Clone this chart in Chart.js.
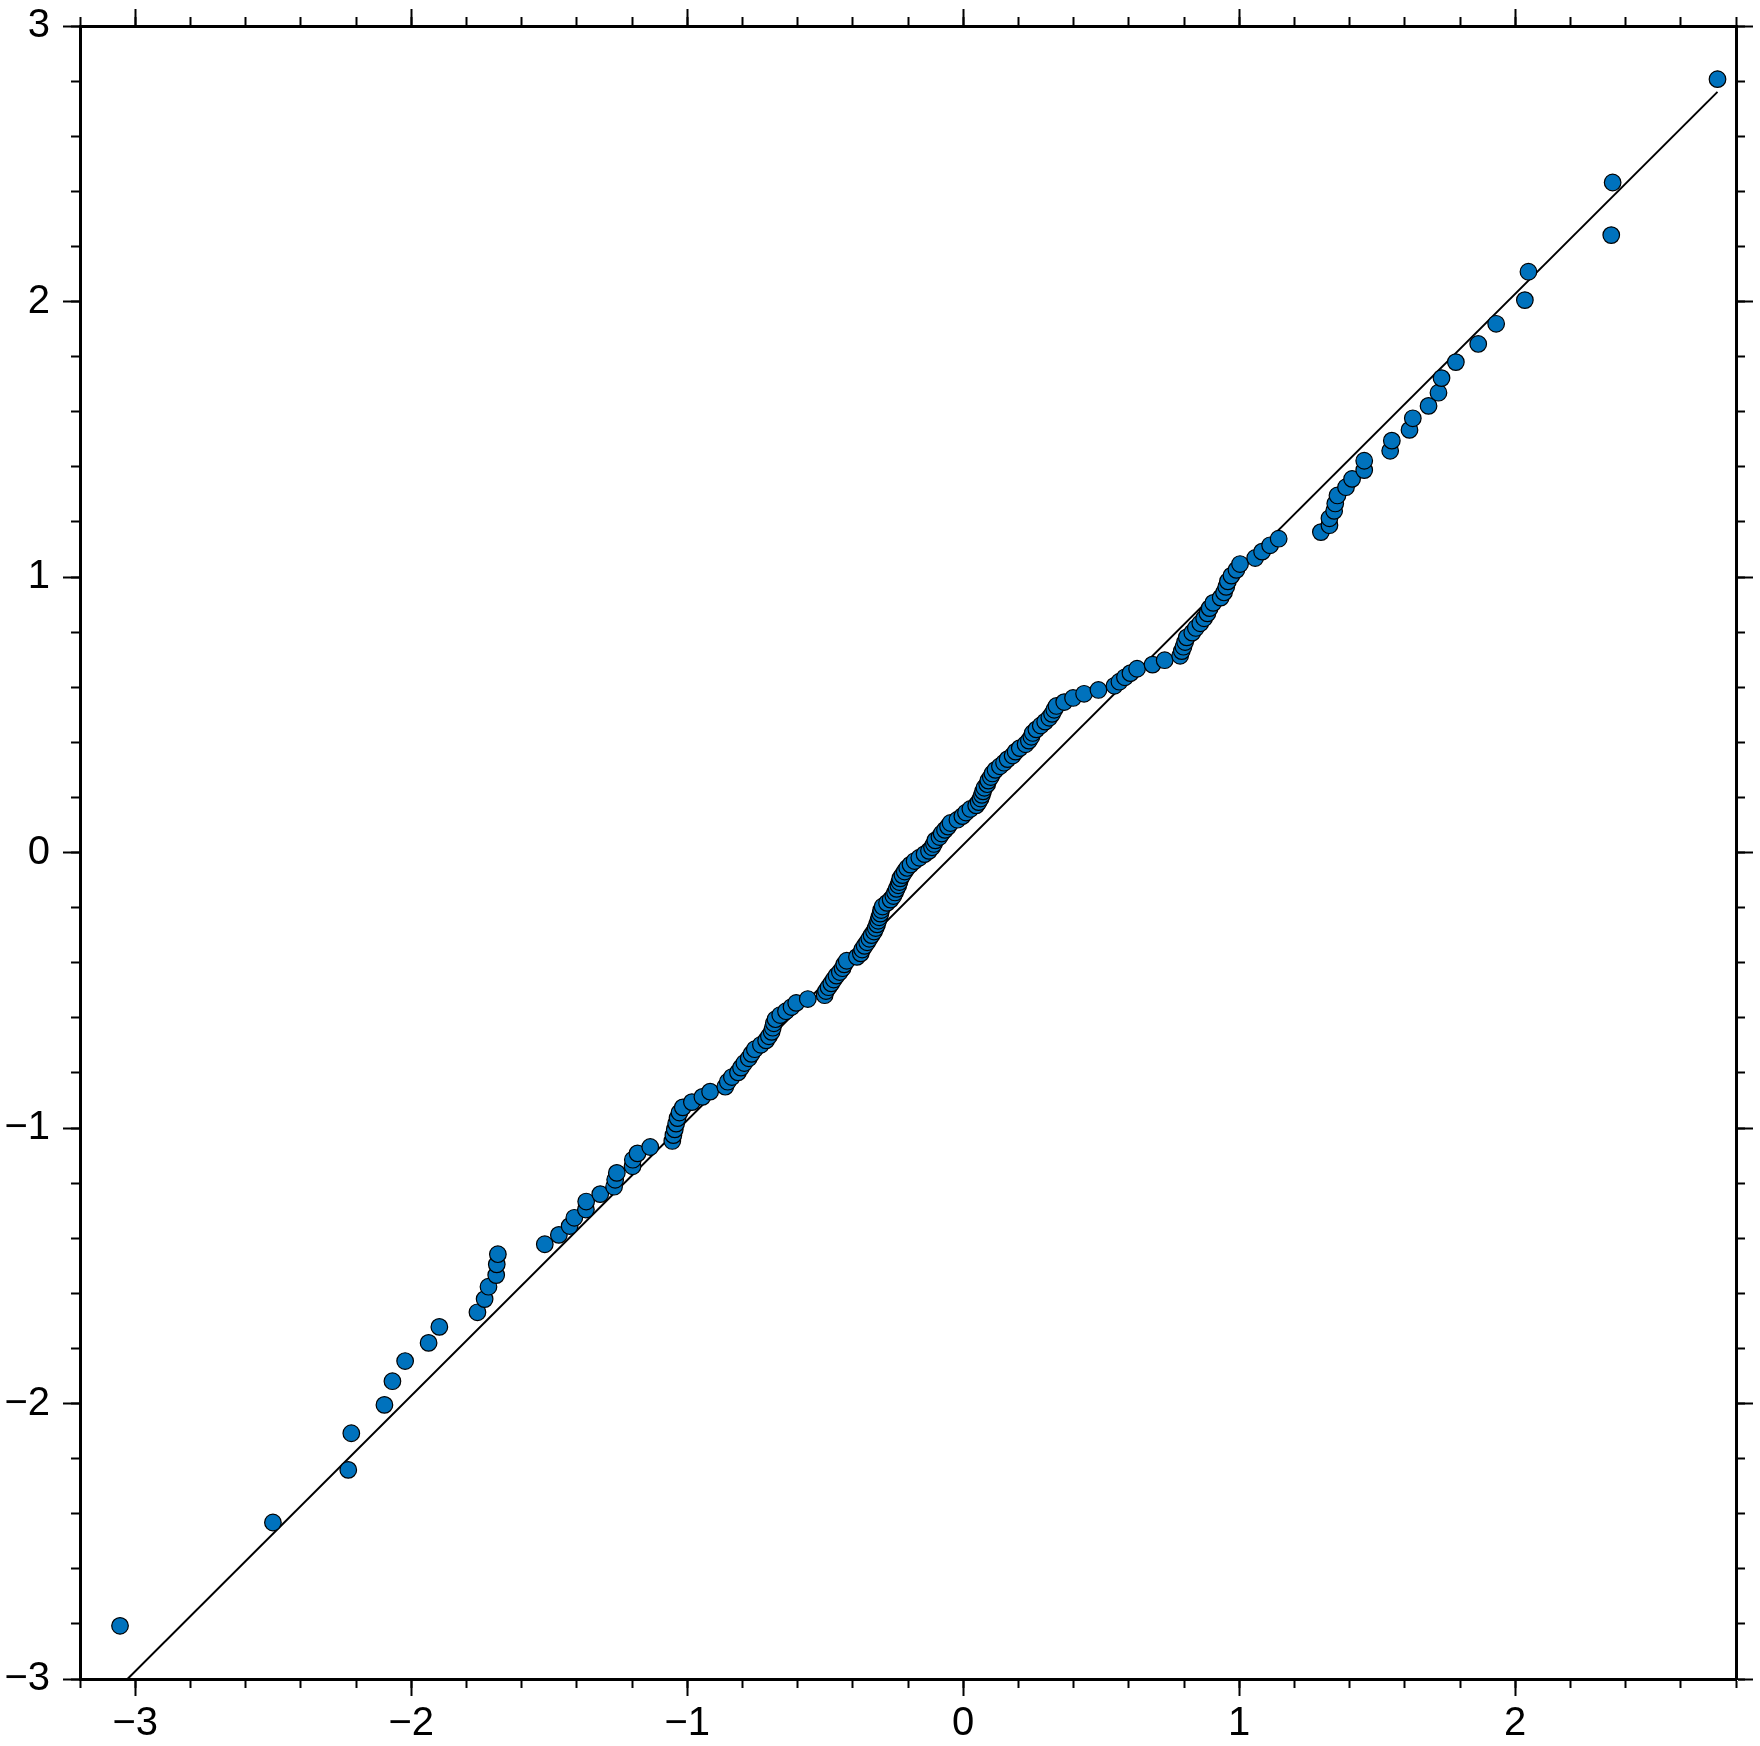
<!DOCTYPE html>
<html>
<head>
<meta charset="utf-8">
<title>Q-Q plot</title>
<script src="https://cdn.jsdelivr.net/npm/chart.js@4.4.1/dist/chart.umd.min.js"></script>
<style>
  html, body { margin: 0; padding: 0; background: #ffffff; }
  #wrap { width: 1760px; height: 1746px; }
</style>
</head>
<body>
<div id="wrap"><canvas id="myChart" width="1760" height="1746"></canvas></div>
<script>
'use strict';

// sorted sample values (x of every marker)
const sampleValues = [
  -3.055, -2.501, -2.228, -2.217, -2.097, -2.068, -2.022, -1.937, -1.898, -1.760,
  -1.734, -1.720, -1.692, -1.690, -1.686, -1.516, -1.465, -1.426, -1.409, -1.367,
  -1.366, -1.315, -1.265, -1.261, -1.255, -1.198, -1.197, -1.180, -1.134, -1.054,
  -1.050, -1.045, -1.040, -1.035, -1.028, -1.016, -0.983, -0.945, -0.917, -0.862,
  -0.853, -0.838, -0.816, -0.805, -0.793, -0.777, -0.767, -0.755, -0.733, -0.714,
  -0.704, -0.694, -0.690, -0.686, -0.680, -0.663, -0.642, -0.622, -0.605, -0.563,
  -0.502, -0.497, -0.488, -0.478, -0.469, -0.459, -0.447, -0.437, -0.431, -0.422,
  -0.385, -0.371, -0.366, -0.357, -0.348, -0.340, -0.332, -0.323, -0.317, -0.312,
  -0.308, -0.304, -0.300, -0.297, -0.292, -0.276, -0.263, -0.253, -0.247, -0.241,
  -0.235, -0.231, -0.228, -0.220, -0.212, -0.203, -0.191, -0.176, -0.159, -0.140,
  -0.124, -0.113, -0.106, -0.101, -0.086, -0.078, -0.066, -0.055, -0.046, -0.021,
  -0.003, 0.010, 0.026, 0.047, 0.056, 0.063, 0.068, 0.072, 0.077, 0.087,
  0.091, 0.100, 0.106, 0.117, 0.133, 0.148, 0.161, 0.179, 0.190, 0.205,
  0.226, 0.238, 0.247, 0.252, 0.265, 0.281, 0.297, 0.312, 0.322, 0.330,
  0.338, 0.366, 0.398, 0.438, 0.490, 0.548, 0.566, 0.586, 0.606, 0.630,
  0.686, 0.730, 0.786, 0.792, 0.798, 0.804, 0.810, 0.830, 0.843, 0.859,
  0.873, 0.885, 0.893, 0.906, 0.933, 0.945, 0.953, 0.959, 0.972, 0.990,
  1.003, 1.058, 1.083, 1.112, 1.143, 1.296, 1.327, 1.327, 1.344, 1.348,
  1.356, 1.387, 1.409, 1.453, 1.453, 1.547, 1.553, 1.617, 1.629, 1.686,
  1.722, 1.733, 1.785, 1.866, 1.931, 2.035, 2.048, 2.348, 2.353, 2.733
];

// theoretical normal quantiles (y of every marker)
const normalQuantiles = [
  -2.807, -2.432, -2.241, -2.108, -2.005, -1.919, -1.846, -1.780, -1.722, -1.669,
  -1.621, -1.576, -1.534, -1.495, -1.458, -1.422, -1.388, -1.356, -1.326, -1.296,
  -1.267, -1.240, -1.213, -1.188, -1.163, -1.139, -1.115, -1.092, -1.069, -1.047,
  -1.026, -1.005, -0.984, -0.964, -0.944, -0.925, -0.906, -0.887, -0.868, -0.850,
  -0.832, -0.815, -0.798, -0.781, -0.764, -0.747, -0.731, -0.714, -0.698, -0.682,
  -0.667, -0.651, -0.636, -0.620, -0.605, -0.590, -0.576, -0.561, -0.546, -0.532,
  -0.518, -0.503, -0.489, -0.475, -0.461, -0.447, -0.434, -0.420, -0.406, -0.393,
  -0.379, -0.366, -0.352, -0.339, -0.326, -0.313, -0.300, -0.287, -0.274, -0.261,
  -0.248, -0.235, -0.222, -0.209, -0.196, -0.183, -0.171, -0.158, -0.145, -0.132,
  -0.119, -0.107, -0.094, -0.082, -0.069, -0.056, -0.044, -0.031, -0.019, -0.006,
  0.006, 0.019, 0.031, 0.044, 0.056, 0.069, 0.082, 0.094, 0.107, 0.119,
  0.132, 0.145, 0.158, 0.171, 0.183, 0.196, 0.209, 0.222, 0.235, 0.248,
  0.261, 0.274, 0.287, 0.300, 0.313, 0.326, 0.339, 0.352, 0.366, 0.379,
  0.393, 0.406, 0.420, 0.434, 0.447, 0.461, 0.475, 0.489, 0.503, 0.518,
  0.532, 0.546, 0.561, 0.576, 0.590, 0.605, 0.620, 0.636, 0.651, 0.667,
  0.682, 0.698, 0.714, 0.731, 0.747, 0.764, 0.781, 0.798, 0.815, 0.832,
  0.850, 0.868, 0.887, 0.906, 0.925, 0.944, 0.964, 0.984, 1.005, 1.026,
  1.047, 1.069, 1.092, 1.115, 1.139, 1.163, 1.188, 1.213, 1.240, 1.267,
  1.296, 1.326, 1.356, 1.388, 1.422, 1.458, 1.495, 1.534, 1.576, 1.621,
  1.669, 1.722, 1.780, 1.846, 1.919, 2.005, 2.108, 2.241, 2.432, 2.807
];

// reference line end points
const refLineX = [-3.028, 2.733];
const refLineY = [-3.0, 2.761];

// axis ranges and ticks
const xRange = [-3.2, 2.8];
const yRange = [-3, 3];
const xMajorTicks = [-3, -2, -1, 0, 1, 2];
const yMajorTicks = [-3, -2, -1, 0, 1, 2, 3];
const xMinorTicks = [-3.2, -3.0, -2.8, -2.6, -2.4, -2.2, -2.0, -1.8, -1.6, -1.4, -1.2,
  -1.0, -0.8, -0.6, -0.4, -0.2, 0, 0.2, 0.4, 0.6, 0.8, 1.0, 1.2, 1.4, 1.6, 1.8, 2.0,
  2.2, 2.4, 2.6, 2.8];
const yMinorTicks = [-3.0, -2.8, -2.6, -2.4, -2.2, -2.0, -1.8, -1.6, -1.4, -1.2,
  -1.0, -0.8, -0.6, -0.4, -0.2, 0, 0.2, 0.4, 0.6, 0.8, 1.0, 1.2, 1.4, 1.6, 1.8, 2.0,
  2.2, 2.4, 2.6, 2.8, 3.0];

// pairing x and y for the scatter dataset
const points = [];
for (let i = 0; i < sampleValues.length; i++) {
  points.push({ x: sampleValues[i], y: normalQuantiles[i] });
}
const linePoints = [];
for (let i = 0; i < refLineX.length; i++) {
  linePoints.push({ x: refLineX[i], y: refLineY[i] });
}

const labelFont = { family: '"Liberation Sans", Arial, Helvetica, sans-serif', size: 40 };

// real minus sign like the original
function axisLabel(v) {
  return v < 0 ? '\u2212' + Math.abs(v) : String(v);
}

// one axis: position, tick list, tick length, box size, labels on/off
function makeAxis(axis, position, range, tickList, tickLen, boxSize, weight, showLabels, pad) {
  return {
    type: 'linear',
    axis: axis,
    position: position,
    min: range[0],
    max: range[1],
    weight: weight,
    grid: { drawOnChartArea: false, drawTicks: true, tickLength: tickLen, tickWidth: 2, tickColor: '#000000' },
    border: { display: true, color: '#000000', width: 3 },
    ticks: { display: showLabels, color: '#000000', font: labelFont, padding: pad,
      autoSkip: false, maxRotation: 0, callback: axisLabel },
    afterBuildTicks: function(s) { s.ticks = tickList.map(v => ({ value: v })); },
    afterFit: function(s) {
      if (axis === 'x') { s.height = boxSize; } else { s.width = boxSize; }
      // labels at the ends must not push the plot frame inwards
      s.paddingTop = 0;
      s.paddingBottom = 0;
      s.paddingLeft = 0;
      s.paddingRight = 0;
    }
  };
}

const ctx = document.getElementById('myChart').getContext('2d');
const chart = new Chart(ctx, {
  type: 'scatter',
  data: {
    datasets: [{
      label: 'samples',
      data: points,
      xAxisID: 'x',
      yAxisID: 'y',
      pointRadius: 8.3,
      pointBackgroundColor: '#0072bd',
      pointBorderColor: '#000000',
      pointBorderWidth: 1.2,
      order: 1
    }, {
      label: 'reference',
      data: linePoints,
      xAxisID: 'x',
      yAxisID: 'y',
      showLine: true,
      borderColor: '#000000',
      borderWidth: 2,
      pointRadius: 0,
      fill: false,
      order: 2
    }]
  },
  options: {
    responsive: false,
    devicePixelRatio: 1,
    animation: false,
    events: [],
    layout: { padding: 0 },
    plugins: { legend: { display: false }, tooltip: { enabled: false } },
    scales: {
      x: makeAxis('x', 'bottom', xRange, xMajorTicks, 17, 67, 1, true, 4),
      xMinor: makeAxis('x', 'bottom', xRange, xMinorTicks, 9, 0, 0, false, 0),
      xTop: makeAxis('x', 'top', xRange, xMajorTicks, 17, 26, 1, false, 0),
      xTopMinor: makeAxis('x', 'top', xRange, xMinorTicks, 9, 0, 0, false, 0),
      y: makeAxis('y', 'left', yRange, yMajorTicks, 17, 80, 1, true, 13),
      yMinor: makeAxis('y', 'left', yRange, yMinorTicks, 9, 0, 0, false, 0),
      yRight: makeAxis('y', 'right', yRange, yMajorTicks, 17, 24, 1, false, 0),
      yRightMinor: makeAxis('y', 'right', yRange, yMinorTicks, 9, 0, 0, false, 0)
    }
  }
});
</script>
</body>
</html>
